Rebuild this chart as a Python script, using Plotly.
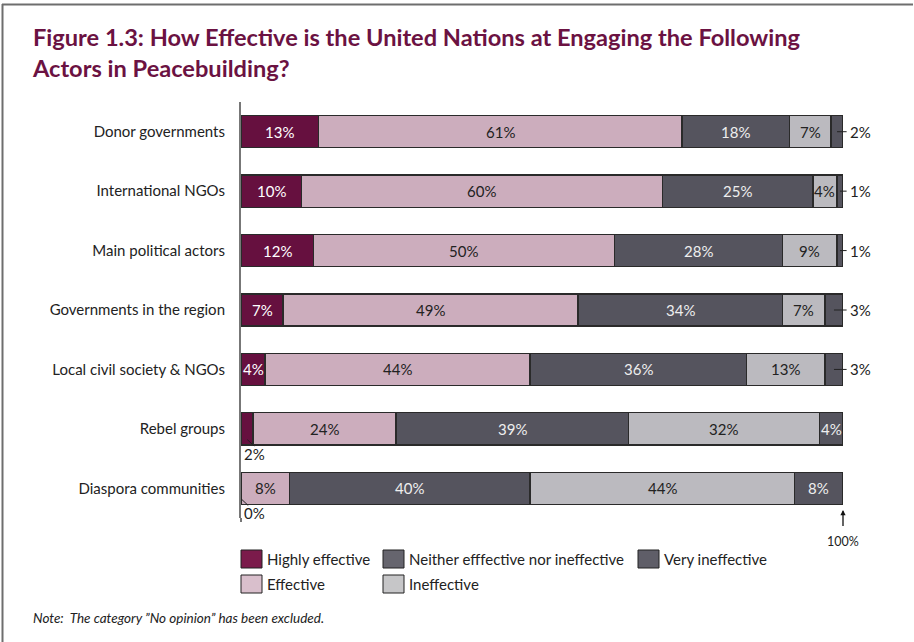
import plotly.graph_objects as go

categories = ["Donor governments", "International NGOs", "Main political actors",
              "Governments in the region", "Local civil society & NGOs",
              "Rebel groups", "Diaspora communities"]
series_names = ["Highly effective", "Effective", "Neither efffective nor ineffective",
                "Ineffective", "Very ineffective"]
highly_effective = [13, 10, 12, 7, 4, 2, 0]
effective = [61, 60, 50, 49, 44, 24, 8]
neither = [18, 25, 28, 34, 36, 39, 40]
ineffective = [7, 4, 9, 7, 13, 32, 44]
very_ineffective = [2, 1, 1, 3, 3, 4, 8]

series = [highly_effective, effective, neither, ineffective, very_ineffective]
bar_colors = ["#66103F", "#CCADBD", "#55545E", "#BBBABF", "#55545E"]
legend_colors = ["#7B1B4B", "#D9BFCC", "#66656E", "#C6C6C8", "#5F5E68"]
text_colors = ["#FFFFFF", "#222222", "#EEEEEE", "#222222", "#EEEEEE"]

FONT = "Lato"
L, R, T, B = 241, 843, 102, 518
W, H = 914, 642

def px(x):
    return (x - L) / (R - L)

def py(y):
    return (B - y) / (B - T)

row_sums = [sum(s[i] for s in series) for i in range(len(categories))]
n = len(categories)

def cat_py(idx_pos):
    # paper y for a (fractional) category index on a reversed category axis
    return 1 - (idx_pos + 0.5) / n

fig = go.Figure()
annotations = []
shapes = []

cum = [0.0] * n
for name, vals, col, tc in zip(series_names, series, bar_colors, text_colors):
    widths = [v / row_sums[i] * 100 for i, v in enumerate(vals)]
    fig.add_trace(go.Bar(
        y=categories, x=widths, orientation="h", name=name,
        marker=dict(color=col, line=dict(color="#2A2A2A", width=1.3)),
        hoverinfo="skip", showlegend=False,
    ))
    for i, (v, w) in enumerate(zip(vals, widths)):
        if v >= 4:
            annotations.append(dict(xref="x", yref="y", x=cum[i] + w / 2, y=categories[i],
                                    text=f"{v}%", showarrow=False,
                                    font=dict(family=FONT, size=15, color=tc)))
        cum[i] += w

# small right-hand labels (Very ineffective)
for i, cat in enumerate(categories):
    v = very_ineffective[i]
    if v < 4:
        w = v / row_sums[i] * 100
        yp = cat_py(i)
        shapes.append(dict(type="line", xref="paper", yref="paper",
                           x0=(100 - w / 2) / 100, x1=1.006, y0=yp, y1=yp,
                           line=dict(color="#222", width=1)))
        annotations.append(dict(xref="paper", yref="paper", x=1.009, y=yp, text=f"{v}%",
                                showarrow=False, xanchor="left", yanchor="middle",
                                font=dict(family=FONT, size=15, color="#222")))

# small left-hand labels (Highly effective)
for i, cat in enumerate(categories):
    v = highly_effective[i]
    if v < 4:
        w = v / row_sums[i] * 100
        shapes.append(dict(type="line", xref="paper", yref="paper",
                           x0=(w / 2 + 0.05) / 100, x1=(w / 2 + 1.2) / 100,
                           y0=cat_py(i + 0.18), y1=cat_py(i + 0.29),
                           line=dict(color="#222", width=1)))
        annotations.append(dict(xref="paper", yref="paper", x=0.001, y=cat_py(i + 0.42),
                                text=f"{v}%", showarrow=False, xanchor="left",
                                yanchor="middle",
                                font=dict(family=FONT, size=15, color="#222")))

# axis line extension below the last bar
shapes.append(dict(type="line", xref="paper", yref="paper", x0=0, x1=0,
                   y0=0, y1=py(522), line=dict(color="#777", width=2)))

# 100% arrow
annotations.append(dict(xref="x", yref="paper", x=100, y=py(510), text="100%",
                        showarrow=True, arrowhead=2, arrowsize=0.8, arrowwidth=1.3,
                        arrowcolor="#111", ax=0, ay=31, startstandoff=6,
                        font=dict(family=FONT, size=12.5, color="#222")))

# title
annotations.append(dict(xref="paper", yref="paper", x=px(30), y=py(21),
                        xanchor="left", yanchor="top", align="left", showarrow=False,
                        text="<b>Figure 1.3: How Effective is the United Nations at Engaging the Following<br>Actors in Peacebuilding?</b>",
                        font=dict(family=FONT, size=23.6, color="#6B1242")))

# note
annotations.append(dict(xref="paper", yref="paper", x=px(31), y=py(618),
                        xanchor="left", yanchor="middle", showarrow=False,
                        text="<i>Note:  The category \u201dNo opinion\u201d has been excluded.</i>",
                        font=dict(family=FONT, size=13.5, color="#222")))

# manual legend
legend_pos = [(241, 559), (241, 584), (383, 559), (383, 584), (638, 559)]
for k, (lx, ly) in enumerate(legend_pos):
    shapes.append(dict(type="rect", xref="paper", yref="paper",
                       x0=px(lx), x1=px(lx + 21), y0=py(ly - 9), y1=py(ly + 9),
                       fillcolor=legend_colors[k], line=dict(color="#222", width=1)))
    annotations.append(dict(xref="paper", yref="paper", x=px(lx + 24), y=py(ly),
                            xanchor="left", yanchor="middle", showarrow=False,
                            text=series_names[k],
                            font=dict(family=FONT, size=15, color="#222")))

# frame lines
shapes.append(dict(type="line", xref="paper", yref="paper", x0=px(2), x1=px(913),
                   y0=py(4.5), y1=py(4.5), line=dict(color="#6E6E6E", width=2)))
shapes.append(dict(type="line", xref="paper", yref="paper", x0=px(2.5), x1=px(2.5),
                   y0=py(4), y1=py(642), line=dict(color="#6E6E6E", width=2)))

fig.update_layout(
    barmode="stack", bargap=0.46,
    width=W, height=H,
    margin=dict(l=L, r=W - R, t=T, b=H - B),
    paper_bgcolor="white", plot_bgcolor="white",
    xaxis=dict(range=[0, 100], visible=False, fixedrange=True),
    yaxis=dict(autorange="reversed", showline=True, linecolor="#777", linewidth=2,
               showgrid=False, ticks="", ticklabelstandoff=11,
               tickfont=dict(family=FONT, size=15, color="#222"), fixedrange=True),
    annotations=annotations, shapes=shapes,
    font=dict(family=FONT),
)

fig.write_html("out.html")
